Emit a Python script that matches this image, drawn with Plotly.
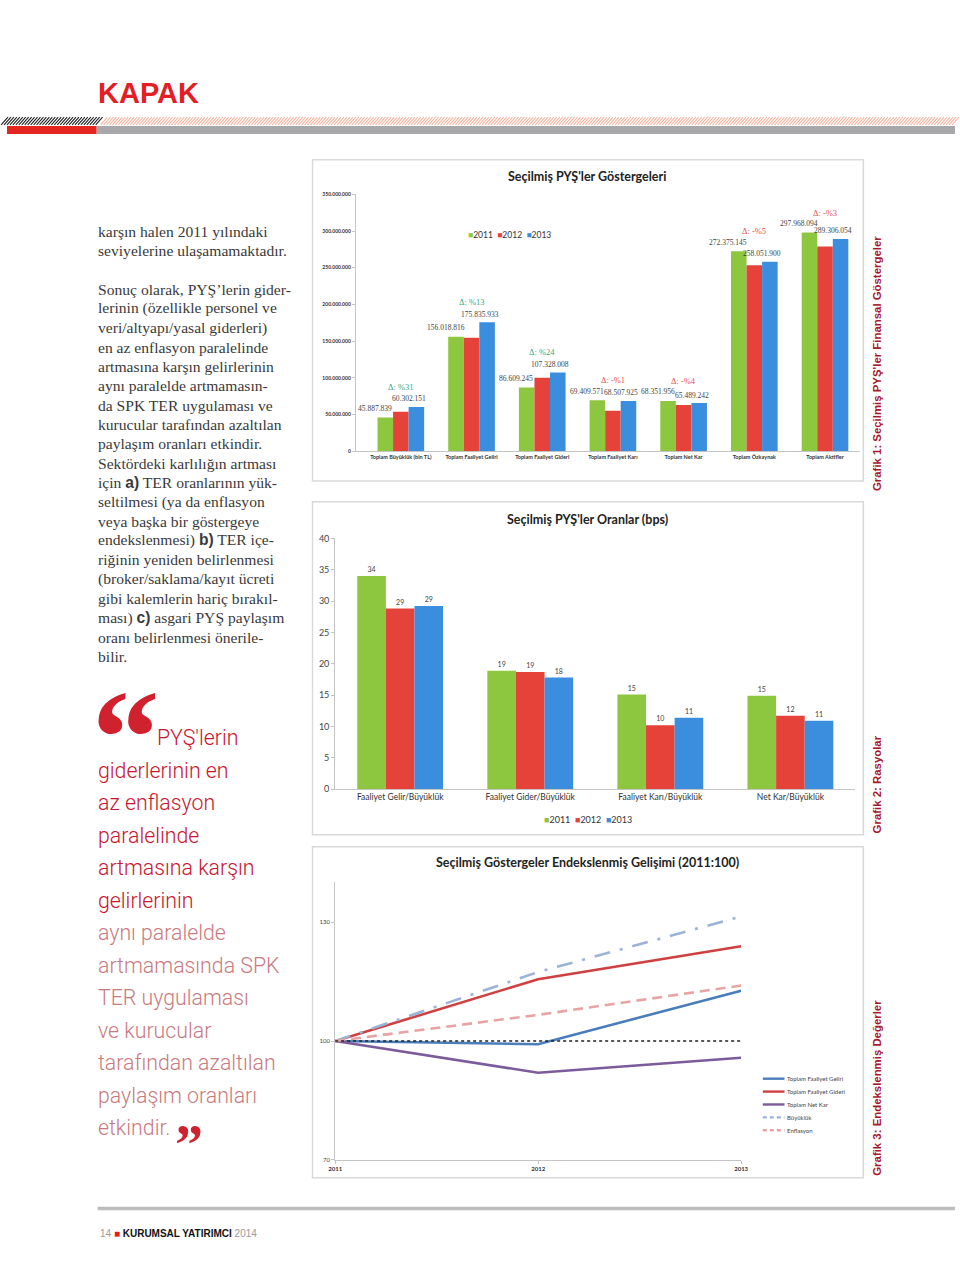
import plotly.graph_objects as go

# ---------------- DATA ----------------
years = ["2011", "2012", "2013"]

cats1 = ["Toplam Büyüklük (bin TL)", "Toplam Faaliyet Geliri", "Toplam Faaliyet Gideri",
         "Toplam Faaliyet Karı", "Toplam Net Kar", "Toplam Özkaynak", "Toplam Aktifler"]
v1_2011 = [45887839, 156018816, 86609245, 69409571, 68351956, 272375145, 297968094]
v1_2012 = [53800000, 154600000, 99900000, 55000000, 62800000, 253500000, 279000000]
v1_2013 = [60302151, 175835933, 107328008, 68507925, 65489242, 258051900, 289306054]
y1_ticks = [0, 50000000, 100000000, 150000000, 200000000, 250000000, 300000000, 350000000]

cats2 = ["Faaliyet Gelir/Büyüklük", "Faaliyet Gider/Büyüklük", "Faaliyet Karı/Büyüklük", "Net Kar/Büyüklük"]
v2_2011 = [34.0, 18.9, 15.1, 14.9]
v2_2012 = [28.8, 18.7, 10.2, 11.7]
v2_2013 = [29.2, 17.8, 11.4, 10.9]
y2_ticks = [0, 5, 10, 15, 20, 25, 30, 35, 40]

series3 = ["Toplam Faaliyet Geliri", "Toplam Faaliyet Gideri", "Toplam Net Kar", "Büyüklük", "Enflasyon"]
faaliyet_geliri = [100.0, 99.2, 112.7]
faaliyet_gideri = [100.0, 115.6, 123.9]
net_kar = [100.0, 92.0, 95.8]
buyukluk = [100.0, 117.4, 131.4]
enflasyon = [100.0, 106.6, 114.0]
baseline = [100.0, 100.0, 100.0]
y3_ticks = [70, 100, 130]

body_lines = [
    "karşın halen 2011 yılındaki",
    "seviyelerine ulaşamamaktadır.",
    "",
    "Sonuç olarak, PYŞ’lerin gider-",
    "lerinin (özellikle personel ve",
    "veri/altyapı/yasal giderleri)",
    "en az enflasyon paralelinde",
    "artmasına karşın gelirlerinin",
    "aynı paralelde artmamasın-",
    "da SPK TER uygulaması ve",
    "kurucular tarafından azaltılan",
    "paylaşım oranları etkindir.",
    "Sektördeki karlılığın artması",
    "için {a} TER oranlarının yük-",
    "seltilmesi (ya da enflasyon",
    "veya başka bir göstergeye",
    "endekslenmesi) {b} TER içe-",
    "riğinin yeniden belirlenmesi",
    "(broker/saklama/kayıt ücreti",
    "gibi kalemlerin hariç bırakıl-",
    "ması) {c} asgari PYŞ paylaşım",
    "oranı belirlenmesi önerile-",
    "bilir.",
]
quote_red = ["PYŞ'lerin", "giderlerinin en", "az enflasyon", "paralelinde",
             "artmasına karşın", "gelirlerinin"]
quote_pink = ["aynı paralelde", "artmamasında SPK", "TER uygulaması", "ve kurucular",
              "tarafından azaltılan", "paylaşım oranları", "etkindir."]

# ---------------- STYLE ----------------
FW, FH = 960, 1280
def PX(x): return x / FW
def PY(y): return 1 - y / FH

GREEN, RED, BLUE = "#8dc63f", "#e5433a", "#3b8ede"
bar_colors = [GREEN, RED, BLUE]
line_colors = ["#4a7ebb", "#d04040", "#7b5b9b", "#9cb3d8", "#e8a4a4"]
line_dash = ["solid", "solid", "solid", "16px,10px,3px,10px", "10px,6px"]
SANS = "Liberation Sans, Arial, sans-serif"
THIN = "Roboto, Lato, sans-serif"
CAL = "Lato, Carlito, Calibri, sans-serif"
SERIF = "Liberation Serif, Times New Roman, serif"
AX = "#c4c4c4"

fig = go.Figure()

# chart 1 bars
for yr, vals, col in zip(years, [v1_2011, v1_2012, v1_2013], bar_colors):
    fig.add_trace(go.Bar(x=cats1, y=vals, name=yr, marker=dict(color=col, line=dict(width=0)),
                         xaxis="x", yaxis="y", showlegend=False, hoverinfo="x+y"))
# chart 2 bars
for yr, vals, col in zip(years, [v2_2011, v2_2012, v2_2013], bar_colors):
    fig.add_trace(go.Bar(x=cats2, y=vals, name=yr, marker=dict(color=col, line=dict(width=0)),
                         xaxis="x2", yaxis="y2", showlegend=False,
                         text=[f"{v:.0f}" for v in vals], textposition="outside",
                         textfont=dict(size=7, color="#444", family=CAL), cliponaxis=False))
# chart 3 lines
for name, vals, col, dash in zip(series3, [faaliyet_geliri, faaliyet_gideri, net_kar, buyukluk, enflasyon],
                                 line_colors, line_dash):
    fig.add_trace(go.Scatter(x=years, y=vals, name=name, mode="lines",
                             line=dict(color=col, width=2.6, dash=dash),
                             xaxis="x3", yaxis="y3", showlegend=False))
fig.add_trace(go.Scatter(x=years, y=baseline, mode="lines", line=dict(color="#222", width=1.6, dash="dot"),
                         xaxis="x3", yaxis="y3", showlegend=False, hoverinfo="skip"))

ann = []
shapes = []

def pa(x, y, text, font, xa="center", ya="middle", **kw):
    d = dict(x=PX(x), y=PY(y), xref="paper", yref="paper", text=text, showarrow=False,
             xanchor=xa, yanchor=ya, font=font)
    d.update(kw)
    ann.append(d)

# chart 1 value labels and delta labels
def tl(v):
    return f"{int(v):,}".replace(",", ".")
for c, a, b in zip(cats1, v1_2011, v1_2013):
    ann.append(dict(x=c, y=a, xref="x", yref="y", text=tl(a), showarrow=False, xshift=-26, yshift=9,
                    xanchor="center", yanchor="middle", font=dict(family=SERIF, size=7.5, color="#444")))
    ann.append(dict(x=c, y=b, xref="x", yref="y", text=tl(b), showarrow=False, xshift=8, yshift=8,
                    xanchor="center", yanchor="middle", font=dict(family=SERIF, size=7.5, color="#444")))
    d = round((b / a - 1) * 100)
    txt = f"Δ: %{d}" if d >= 0 else f"Δ: -%{abs(d)}"
    ann.append(dict(x=c, y=max(a, b), xref="x", yref="y", text=txt, showarrow=False, yshift=20,
                    xanchor="center", yanchor="middle",
                    font=dict(family=SERIF, size=8.5, color="#38a87c" if d >= 0 else "#e8504a")))

def legend_html():
    return "  ".join(f"<span style='color:{c}'>■</span>{y}" for y, c in zip(years, bar_colors))

# chart titles & legends
pa(589, 172, "<b>Seçilmiş PYŞ'ler Göstergeleri</b>", dict(family=CAL, size=12.5, color="#222"))
pa(510, 231, legend_html(), dict(family=CAL, size=8.5, color="#333"))
pa(589, 518, "<b>Seçilmiş PYŞ'ler Oranlar (bps)</b>", dict(family=CAL, size=12.5, color="#222"))
pa(590, 821, legend_html(), dict(family=CAL, size=9, color="#333"))
pa(589, 864, "<b>Seçilmiş Göstergeler Endekslenmiş Gelişimi (2011:100)</b>",
   dict(family=CAL, size=12.5, color="#222"))

# chart 3 end labels
for vals in [faaliyet_geliri, faaliyet_gideri, net_kar, buyukluk, enflasyon]:
    ann.append(dict(x=years[-1], y=vals[-1], xref="x3", yref="y3", text=f"{vals[-1]:.1f}".replace(".", ","),
                    showarrow=False, xanchor="left", yanchor="middle", xshift=7,
                    font=dict(family=CAL, size=6.5, color="#444")))

# chart 3 legend (annotation + sample line)
for i, (name, col) in enumerate(zip(series3, line_colors)):
    yy = 1082 + 13 * i
    shapes.append(dict(type="line", xref="paper", yref="paper", x0=PX(767), x1=PX(789), y0=PY(yy), y1=PY(yy),
                       line=dict(color=col, width=2.4, dash="4px,3px" if i >= 3 else "solid")))
    pa(790, yy, name, dict(family=CAL, size=6, color="#444"), xa="left")

# chart boxes
for y0, y1 in [(155, 479), (500, 836), (848, 1182)]:
    shapes.append(dict(type="rect", xref="paper", yref="paper", x0=PX(310), x1=PX(869), y0=PY(y1), y1=PY(y0),
                       line=dict(color="#d9d9d9", width=1.5), fillcolor="rgba(0,0,0,0)", layer="below"))

# vertical captions
for txt, yc in [("Grafik 1: Seçilmiş PYŞ'ler Finansal Göstergeler", 361),
                ("Grafik 2: Rasyolar", 785),
                ("Grafik 3: Endekslenmiş Değerler", 1091)]:
    pa(883, yc, txt, dict(family=SANS, size=11.4, color="#a8182c", weight="bold"), textangle=-90)

# header
pa(90, 88, "KAPAK", dict(family=SANS, size=29, color="#e31e24", weight="bold"), xa="left")
def hatch(x0, x1):
    p = ""
    x = x0
    while x < x1:
        p += f"M{PX(x)},{PY(120)} L{PX(x + 7)},{PY(112)} "
        x += 3
    return p
shapes.append(dict(type="path", xref="paper", yref="paper", path=hatch(-6, 92), line=dict(color="#222", width=1.1)))
shapes.append(dict(type="path", xref="paper", yref="paper", path=hatch(95, 962), line=dict(color="#f2b6a2", width=1.1)))
shapes.append(dict(type="rect", xref="paper", yref="paper", x0=PX(0), x1=PX(91), y0=PY(129), y1=PY(121),
                   fillcolor="#e52520", line=dict(width=0)))
shapes.append(dict(type="rect", xref="paper", yref="paper", x0=PX(91), x1=PX(962), y0=PY(129), y1=PY(121),
                   fillcolor="#a8a8aa", line=dict(width=0)))

# body text (one line per annotation, 19.5px leading)
bold = "<span style='font-family:Liberation Sans;font-weight:bold'>{}</span>"
for i, l in enumerate(body_lines):
    if not l:
        continue
    t = l.format(a=bold.format("a)"), b=bold.format("b)"), c=bold.format("c)"))
    pa(90, 227 + 19.5 * i, t, dict(family=SERIF, size=15.6, color="#3a3a3a"), xa="left")

# pull quote
for i, l in enumerate(quote_red + quote_pink):
    yy = 738 + 32.8 * i
    xx = 150 if i == 0 else 90
    col = "#c8142e" if i < len(quote_red) else "#c97a80"
    pa(xx, yy, l, dict(family=THIN, size=21.3, color=col, weight=300), xa="left")
pa(84, 661, "“", dict(family=SERIF, size=135, color="#d0212f", weight="bold"), xa="left", ya="top",
   width=64, height=84, valign="top", align="left")
pa(168, 1116, "”", dict(family=SERIF, size=56, color="#d0212f", weight="bold"), xa="left", ya="top",
   width=30, height=40, valign="top", align="left")

# footer
shapes.append(dict(type="line", xref="paper", yref="paper", x0=PX(92), x1=PX(962), y0=PY(1213), y1=PY(1213),
                   line=dict(color="#bdbdbd", width=3.5)))
pa(92, 1238, "<span style='color:#9a9a9a'>14</span> <span style='color:#e31e24'>■</span> "
             "<b>KURUMSAL YATIRIMCI</b> <span style='color:#9a9a9a'>2014</span>",
   dict(family=SANS, size=10, color="#111"), xa="left")

axis_common = dict(showgrid=False, zeroline=False, showline=True, linecolor=AX, linewidth=1)

fig.update_layout(
    width=FW, height=FH, autosize=False, margin=dict(l=0, r=0, t=0, b=0),
    paper_bgcolor="white", plot_bgcolor="white",
    barmode="group", bargap=0.34, bargroupgap=0,
    xaxis=dict(domain=[PX(354), PX(866)], anchor="y", ticks="",
               tickfont=dict(family=CAL, size=5.5, color="#333", weight="bold"), **axis_common),
    yaxis=dict(domain=[PY(449), PY(190)], anchor="x", range=[0, 350000000],
               tickvals=y1_ticks, ticktext=[tl(v) for v in y1_ticks], ticks="outside", ticklen=3, tickcolor=AX,
               tickfont=dict(family=CAL, size=5, color="#333", weight="bold"), **axis_common),
    xaxis2=dict(domain=[PX(333), PX(861)], anchor="y2", ticks="",
                tickfont=dict(family=CAL, size=8.5, color="#333"), **axis_common),
    yaxis2=dict(domain=[PY(790), PY(537)], anchor="x2", range=[0, 40], tickvals=y2_ticks,
                ticks="outside", ticklen=3, tickcolor=AX,
                tickfont=dict(family=CAL, size=9, color="#444"), **axis_common),
    xaxis3=dict(domain=[PX(333), PX(745)], anchor="y3", type="category", range=[0, 2],
                ticks="outside", ticklen=3, tickcolor=AX,
                tickfont=dict(family=CAL, size=6, color="#333", weight="bold"), **axis_common),
    yaxis3=dict(domain=[PY(1164), PY(884)], anchor="x3", range=[70, 140], tickvals=y3_ticks,
                ticks="outside", ticklen=3, tickcolor=AX,
                tickfont=dict(family=CAL, size=6, color="#444"), **axis_common),
    annotations=ann, shapes=shapes, showlegend=False,
)

fig.write_html("out.html", config={"displayModeBar": False},
               post_script=("document.documentElement.style.margin='0px';"
                            "document.body.style.margin='0px';document.body.style.overflow='hidden';"
                            "var g=document.getElementById('{plot_id}');g.style.position='absolute';"
                            "g.style.left='0px';g.style.top='0px';"))
